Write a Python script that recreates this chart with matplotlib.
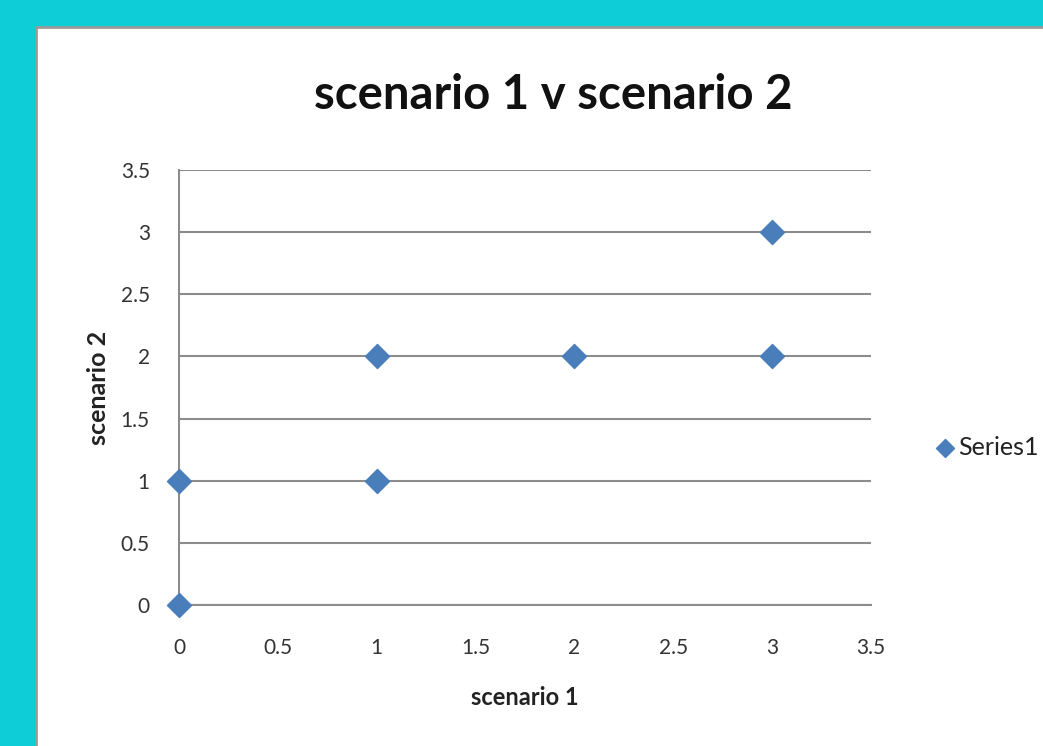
import matplotlib.pyplot as plt
from matplotlib.patches import Rectangle

plt.rcParams['font.family'] = ['Lato', 'DejaVu Sans']

# scenario 1 vs scenario 2 values
scenario_1 = [0, 0, 1, 1, 2, 3, 3]
scenario_2 = [0, 1, 1, 2, 2, 2, 3]
tick_values = [0, 0.5, 1, 1.5, 2, 2.5, 3, 3.5]
tick_labels = ["0", "0.5", "1", "1.5", "2", "2.5", "3", "3.5"]

fig = plt.figure(figsize=(10.43, 7.46), dpi=100)
fig.patch.set_facecolor("#0ecdd7")

# white chart panel with grey border, kept behind the axes
panel = Rectangle((0.0345, -0.02), 1.0, 0.9838, transform=fig.transFigure,
                  facecolor="white", edgecolor="#9a9a9a", linewidth=2, zorder=-10)
fig.patches.append(panel)

ax = fig.add_axes([0.1716, 0.189, 0.6635, 0.583])
ax.set_facecolor("none")
ax.set_zorder(5)

ax.scatter(scenario_1, scenario_2, marker="D", s=150, color="#4a7ebb",
           edgecolors="#4a7ebb", zorder=3, clip_on=False, label="Series1")

ax.set_xlim(0, 3.5)
ax.set_ylim(0, 3.5)
ax.set_xticks(tick_values)
ax.set_xticklabels(tick_labels)
ax.set_yticks(tick_values)
ax.set_yticklabels(tick_labels)

ax.yaxis.grid(True, color="#8c8c8c", linewidth=1.5)
ax.set_axisbelow(True)
for side in ["top", "right"]:
    ax.spines[side].set_visible(False)
for side in ["left", "bottom"]:
    ax.spines[side].set_color("#8c8c8c")
    ax.spines[side].set_linewidth(1.5)

ax.tick_params(axis="both", length=0, labelsize=15, labelcolor="#333333")
ax.tick_params(axis="x", pad=24)
ax.tick_params(axis="y", pad=21)

ax.set_xlabel("scenario 1", fontsize=17, fontweight="bold", color="#222222", labelpad=20)
ax.set_ylabel("scenario 2", fontsize=18, fontweight="bold", color="#222222", labelpad=8)

fig.text(0.53, 0.872, "scenario 1 v scenario 2", fontsize=34, fontweight="bold",
         color="#111111", ha="center", va="center")

leg = ax.legend(loc="center left", bbox_to_anchor=(1.075, 0.363), frameon=False,
                fontsize=18, handlelength=0.8, handletextpad=0.1, borderpad=0,
                markerscale=0.75)
for t in leg.get_texts():
    t.set_color("#222222")

plt.savefig("out.png", dpi=100)
